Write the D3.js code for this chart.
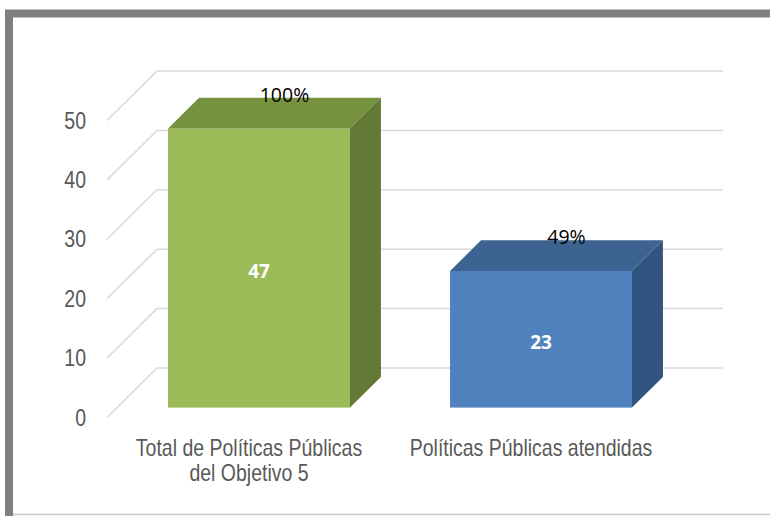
<!DOCTYPE html>
<html>
<head>
<meta charset="utf-8">
<script src="https://cdn.jsdelivr.net/npm/d3@7"></script>
<style>
  body { margin: 0; background: #fff; }
  svg { display: block; }
</style>
</head>
<body>
<div id="chart"></div>
<script>
// chart data
var categories = ["Total de Políticas Públicas\ndel Objetivo 5", "Políticas Públicas atendidas"];
var values = [47, 23];
var percentLabels = ["100%", "49%"];
var yTicks = [0, 10, 20, 30, 40, 50];

var frontColors = ["#9bbb59", "#4f81bd"];
var topColors = ["#77923f", "#3d6392"];
var sideColors = ["#637a37", "#325480"];

var width = 770;
var height = 516;

// depth of the back wall and of the bars (45 degree projection)
var wallDepth = 50;
var barFront = 40;
var barBack = 9;

var svg = d3.select("#chart")
    .append("svg")
    .attr("width", width)
    .attr("height", height);

// frame: thick gray on left and top, thin light line at the bottom
svg.append("rect")
    .attr("x", 9).attr("y", 13.5)
    .attr("width", 800).attr("height", 540)
    .attr("fill", "none")
    .attr("stroke", "#808080")
    .attr("stroke-width", 8);
svg.append("line")
    .attr("x1", 13).attr("x2", 770)
    .attr("y1", 514.5).attr("y2", 514.5)
    .attr("stroke", "#c8c8c8")
    .attr("stroke-width", 1.5);

// scales on the back wall
var yScale = d3.scaleLinear()
    .domain([0, 50])
    .range([368, 71]);

var xScale = d3.scaleBand()
    .domain(categories)
    .range([157, 723])
    .paddingInner(0.355)
    .paddingOuter(0.181);

// project a back-wall point forward by depth d
function proj(x, y, d) {
    return [x - d, y + d * 0.99];
}

// gridlines: floor diagonal + back wall line
var grid = svg.append("g").attr("class", "grid");
yTicks.forEach(function(t) {
    var y = yScale(t);
    var p0 = proj(157, y, wallDepth);
    grid.append("path")
        .attr("d", d3.line()([p0, [157, y], [723, y]]))
        .attr("fill", "none")
        .attr("stroke", "#d9d9d9")
        .attr("stroke-width", 1.5);
});

// y tick labels
svg.append("g")
    .selectAll("text")
    .data(yTicks)
    .enter()
    .append("text")
    .attr("transform", function(d) {
        var p = proj(157, yScale(d), wallDepth);
        return "translate(86," + p[1] + ") scale(1,1.2)";
    })
    .attr("text-anchor", "end")
    .attr("dy", "0.35em")
    .attr("font-family", "Liberation Sans, Arial, sans-serif")
    .attr("font-size", 19.5)
    .attr("fill", "#595959")
    .text(function(d) { return d; });

// bars
var bars = svg.append("g").attr("class", "bars");
categories.forEach(function(c, i) {
    var x0 = xScale(c);
    var x1 = x0 + xScale.bandwidth();
    var yT = yScale(values[i]);
    var y0 = yScale(0);

    // front face
    var f0 = proj(x0, yT, barFront), f1 = proj(x1, y0, barFront);
    bars.append("rect")
        .attr("x", f0[0]).attr("y", f0[1])
        .attr("width", f1[0] - f0[0])
        .attr("height", f1[1] - f0[1])
        .attr("fill", frontColors[i]);

    // top face
    bars.append("path")
        .attr("d", d3.line()([
            proj(x0, yT, barFront), proj(x1, yT, barFront),
            proj(x1, yT, barBack), proj(x0, yT, barBack)
        ]) + "Z")
        .attr("fill", topColors[i]);

    // side face
    bars.append("path")
        .attr("d", d3.line()([
            proj(x1, yT, barFront), proj(x1, yT, barBack),
            proj(x1, y0, barBack), proj(x1, y0, barFront)
        ]) + "Z")
        .attr("fill", sideColors[i]);

    // value inside the bar
    bars.append("text")
        .attr("x", (f0[0] + f1[0]) / 2)
        .attr("y", (f0[1] + f1[1]) / 2 + 3)
        .attr("dy", "0.36em")
        .attr("text-anchor", "middle")
        .attr("font-family", "Open Sans, sans-serif")
        .attr("font-weight", "bold")
        .attr("font-size", 19)
        .attr("fill", "#fff")
        .text(values[i]);

    // percentage on top
    var topMid = proj((x0 + x1) / 2, yT, (barFront + barBack) / 2);
    var back = proj(x0, yT, barBack);
    bars.append("text")
        .attr("x", topMid[0] + 10)
        .attr("y", back[1] + 4)
        .attr("text-anchor", "middle")
        .attr("font-family", "Open Sans, sans-serif")
        .attr("font-size", 19.5)
        .attr("fill", "#000")
        .text(percentLabels[i]);
});

// category labels, centred under the front of the floor
var catLabels = svg.append("g");
categories.forEach(function(c) {
    var cx = xScale(c) + xScale.bandwidth() / 2 - wallDepth;
    var lines = c.split("\n");
    lines.forEach(function(line, j) {
        catLabels.append("text")
            .attr("transform", "translate(" + cx + "," + (455.5 + j * 25) + ") scale(1,1.2)")
            .attr("text-anchor", "middle")
            .attr("font-family", "Liberation Sans, Arial, sans-serif")
            .attr("font-size", 19.5)
            .attr("fill", "#595959")
            .text(line);
    });
});
</script>
</body>
</html>
